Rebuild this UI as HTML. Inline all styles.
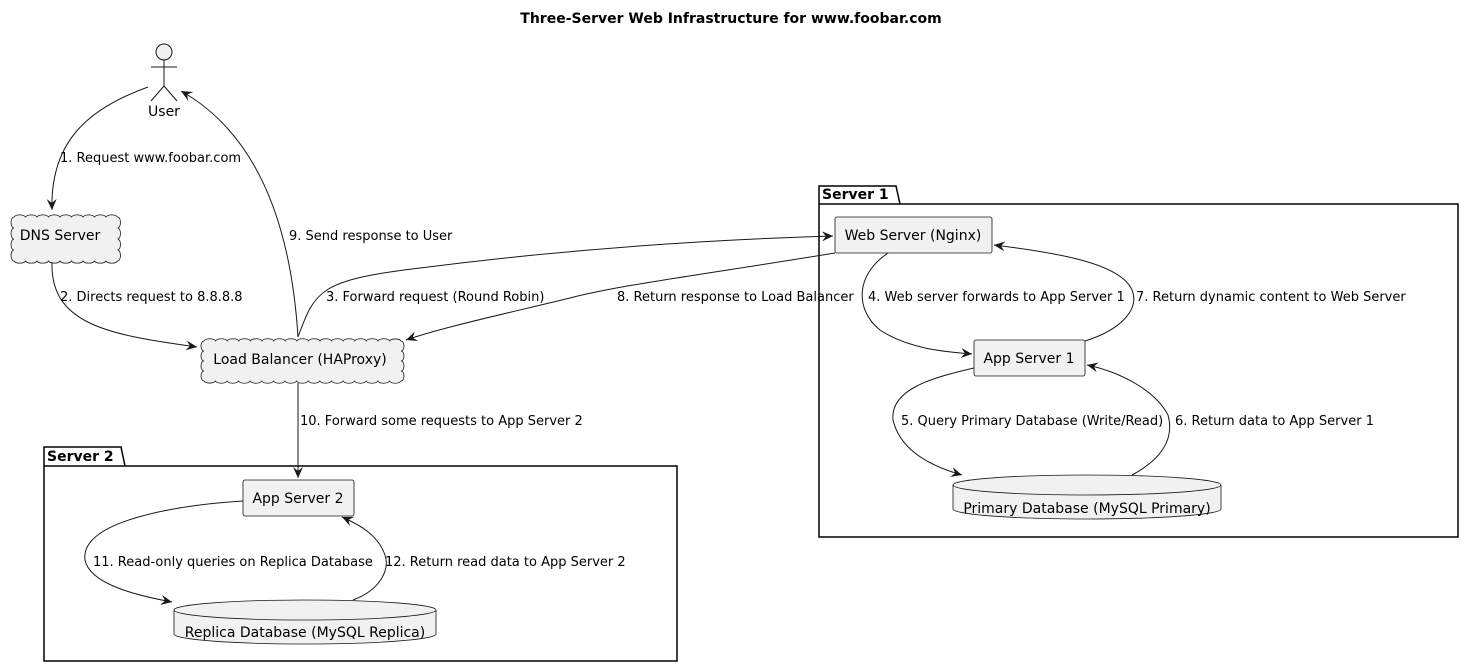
<!DOCTYPE html>
<html><head><meta charset="utf-8"><style>
html,body{margin:0;padding:0;background:#fff;}
svg{display:block;font-family:"DejaVu Sans","Liberation Sans",sans-serif;}
</style></head><body>
<svg width="1463" height="666" viewBox="0 0 1463 666" xmlns="http://www.w3.org/2000/svg">
<defs>
<marker id="a" viewBox="0 0 12 10" refX="11" refY="5" markerWidth="12" markerHeight="10" orient="auto" markerUnits="userSpaceOnUse">
<path d="M0,0 L11,5 L0,10 L4,5 Z" fill="#181818"/>
</marker>
</defs>
<text x="731" y="23" text-anchor="middle" font-size="14" font-weight="bold">Three-Server Web Infrastructure for www.foobar.com</text>

<path d="M819,204 L819,186 L896,186 L900,204 L1458,204 L1458,537 L819,537 Z" fill="none" stroke="#000" stroke-width="1.5"/>
<line x1="819" y1="204" x2="900" y2="204" stroke="#000" stroke-width="1.5"/>
<text x="822" y="199" font-size="14" font-weight="bold">Server 1</text>
<path d="M44,466 L44,447 L121,447 L125,466 L677,466 L677,661 L44,661 Z" fill="none" stroke="#000" stroke-width="1.5"/>
<line x1="44" y1="466" x2="125" y2="466" stroke="#000" stroke-width="1.5"/>
<text x="47" y="461" font-size="14" font-weight="bold">Server 2</text>

<g stroke="#181818" fill="#f1f1f1" stroke-width="1">
<circle cx="164" cy="52" r="8"/>
<line x1="164" y1="60" x2="164" y2="86"/>
<line x1="151" y1="67" x2="177" y2="67"/>
<line x1="164" y1="86" x2="151" y2="101"/>
<line x1="164" y1="86" x2="177" y2="101"/>
</g>
<text x="164" y="116" text-anchor="middle" font-size="14">User</text>

<path fill="#f1f1f1" stroke="#181818" stroke-width="0.8" d="M14,217
a6,3 0 0,1 11.5,0 a6,3 0 0,1 11.5,0 a6,3 0 0,1 11.5,0 a6,3 0 0,1 11.5,0 a6,3 0 0,1 11.5,0 a6,3 0 0,1 11.5,0 a6,3 0 0,1 11.5,0 a6,3 0 0,1 11.5,0 a6,3 0 0,1 11.5,0
a3,5.5 0 0,1 0,11 a3,5.5 0 0,1 0,11 a3,5.5 0 0,1 0,11 a3,5.5 0 0,1 0,11
a6,3 0 0,1 -11.5,0 a6,3 0 0,1 -11.5,0 a6,3 0 0,1 -11.5,0 a6,3 0 0,1 -11.5,0 a6,3 0 0,1 -11.5,0 a6,3 0 0,1 -11.5,0 a6,3 0 0,1 -11.5,0 a6,3 0 0,1 -11.5,0 a6,3 0 0,1 -11.5,0
a3,5.5 0 0,1 0,-11 a3,5.5 0 0,1 0,-11 a3,5.5 0 0,1 0,-11 a3,5.5 0 0,1 0,-11 Z"/>
<text x="60" y="240" text-anchor="middle" font-size="14">DNS Server</text>

<path fill="#f1f1f1" stroke="#181818" stroke-width="0.8" d="M204,341
a6,3 0 0,1 11.6,0 a6,3 0 0,1 11.6,0 a6,3 0 0,1 11.6,0 a6,3 0 0,1 11.6,0 a6,3 0 0,1 11.6,0 a6,3 0 0,1 11.6,0 a6,3 0 0,1 11.6,0 a6,3 0 0,1 11.6,0 a6,3 0 0,1 11.6,0 a6,3 0 0,1 11.6,0 a6,3 0 0,1 11.6,0 a6,3 0 0,1 11.6,0 a6,3 0 0,1 11.6,0 a6,3 0 0,1 11.6,0 a6,3 0 0,1 11.6,0 a6,3 0 0,1 11.6,0 a6,3 0 0,1 11.4,0
a3,5 0 0,1 0,10 a3,5 0 0,1 0,10 a3,5 0 0,1 0,10 a3,5 0 0,1 0,10
a6,3 0 0,1 -11.6,0 a6,3 0 0,1 -11.6,0 a6,3 0 0,1 -11.6,0 a6,3 0 0,1 -11.6,0 a6,3 0 0,1 -11.6,0 a6,3 0 0,1 -11.6,0 a6,3 0 0,1 -11.6,0 a6,3 0 0,1 -11.6,0 a6,3 0 0,1 -11.6,0 a6,3 0 0,1 -11.6,0 a6,3 0 0,1 -11.6,0 a6,3 0 0,1 -11.6,0 a6,3 0 0,1 -11.6,0 a6,3 0 0,1 -11.6,0 a6,3 0 0,1 -11.6,0 a6,3 0 0,1 -11.6,0 a6,3 0 0,1 -11.4,0
a3,5 0 0,1 0,-10 a3,5 0 0,1 0,-10 a3,5 0 0,1 0,-10 a3,5 0 0,1 0,-10 Z"/>
<text x="300" y="364" text-anchor="middle" font-size="14">Load Balancer (HAProxy)</text>

<g fill="#f1f1f1" stroke="#181818" stroke-width="0.8">
<rect x="835" y="217" width="157" height="36" rx="2"/>
<rect x="974" y="340" width="111" height="36" rx="2"/>
<rect x="243" y="480" width="111" height="36" rx="2"/>
</g>
<text x="913" y="240" text-anchor="middle" font-size="14">Web Server (Nginx)</text>
<text x="1029" y="363" text-anchor="middle" font-size="14">App Server 1</text>
<text x="298" y="503" text-anchor="middle" font-size="14">App Server 2</text>

<g fill="#f1f1f1" stroke="#181818" stroke-width="0.8">
<path d="M953,485 a134,10 0 0,1 268,0 L1221,509 a134,10 0 0,1 -268,0 Z"/>
<path d="M953,485 a134,10 0 0,0 268,0" fill="none"/>
<path d="M174,610 a131,10 0 0,1 262,0 L436,634 a131,10 0 0,1 -262,0 Z"/>
<path d="M174,610 a131,10 0 0,0 262,0" fill="none"/>
</g>
<text x="1087" y="513" text-anchor="middle" font-size="14">Primary Database (MySQL Primary)</text>
<text x="305" y="637" text-anchor="middle" font-size="14">Replica Database (MySQL Replica)</text>

<g fill="none" stroke="#181818" stroke-width="1" marker-end="url(#a)">
<path d="M148,87 C90,108 50,140 52,210"/>
<path d="M298,337 C290,210 250,130 181,91"/>
<path d="M52,262 C50,325 110,335 197,347"/>
<path d="M298,337 C315,290 320,280 420,268 C560,250 700,240 833,236"/>
<path d="M835,253 C700,275 620,285 570,298 C500,315 440,328 406,340"/>
<path d="M888,253 C855,275 855,310 880,330 C910,350 950,352 972,354"/>
<path d="M1085,341 C1120,330 1140,310 1132,290 C1120,262 1050,252 994,245"/>
<path d="M974,368 C930,378 890,390 893,420 C900,450 930,466 962,475"/>
<path d="M1132,475 C1160,460 1175,440 1168,415 C1155,390 1120,372 1087,365"/>
<path d="M298,383 L298,478"/>
<path d="M243,501 C180,505 80,520 85,560 C90,585 140,596 172,602"/>
<path d="M353,600 C380,590 390,570 385,555 C378,535 360,525 342,517"/>
</g>

<g font-size="13" fill="#000">
<text x="60" y="162">1. Request www.foobar.com</text>
<text x="289" y="240">9. Send response to User</text>
<text x="60" y="301">2. Directs request to 8.8.8.8</text>
<text x="326" y="301">3. Forward request (Round Robin)</text>
<text x="617" y="301">8. Return response to Load Balancer</text>
<text x="868" y="301">4. Web server forwards to App Server 1</text>
<text x="1136" y="301">7. Return dynamic content to Web Server</text>
<text x="901" y="425">5. Query Primary Database (Write/Read)</text>
<text x="1175" y="425">6. Return data to App Server 1</text>
<text x="300" y="425">10. Forward some requests to App Server 2</text>
<text x="93" y="566">11. Read-only queries on Replica Database</text>
<text x="385" y="566">12. Return read data to App Server 2</text>
</g>
</svg>
</body></html>
